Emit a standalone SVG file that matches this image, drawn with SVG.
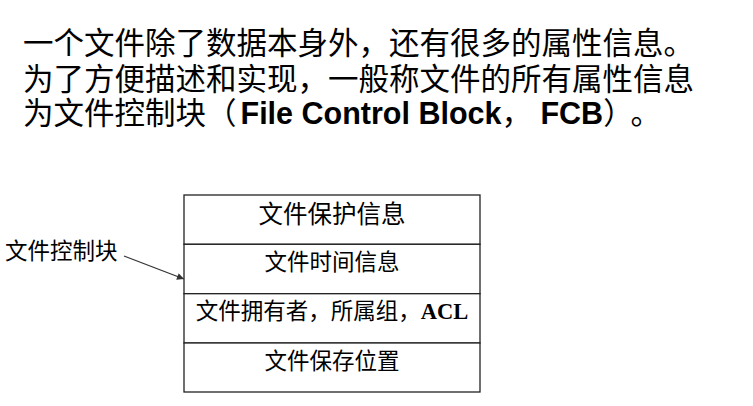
<svg xmlns="http://www.w3.org/2000/svg" width="753" height="406" viewBox="0 0 753 406">
<style>
.t{font-family:"Liberation Sans","Noto Sans CJK SC",sans-serif;font-size:30.5px;fill:#000}
.b{font-weight:bold}
.d{font-family:"Liberation Serif","Noto Sans CJK SC",serif;font-size:22.5px;fill:#000}
.cell{fill:#fff;stroke:#222;stroke-width:1.3}
.conn{stroke:#333;stroke-width:1.3;fill:none}
</style>
<defs>
<marker id="ah" viewBox="0 0 10 10" refX="10" refY="5" markerWidth="8" markerHeight="7" orient="auto" markerUnits="userSpaceOnUse">
<path d="M0,0 L10,5 L0,10 z" fill="#333"/>
</marker>
</defs>
<rect width="753" height="406" fill="#fff"/>
<g id="title">
<text class="t" x="23" y="54">一个文件除了数据本身外，还有很多的属性信息。</text>
<text class="t" x="23" y="90">为了方便描述和实现，一般称文件的所有属性信息</text>
<text class="t" x="23" y="124">为文件控制块（<tspan class="b" dx="4">File Control Block</tspan>， <tspan class="b">FCB</tspan>）<tspan dx="12">。</tspan></text>
</g>
<g id="label">
<text class="d" x="5" y="259">文件控制块</text>
</g>
<g id="row1">
<rect class="cell" x="184" y="195" width="296" height="49.3"/>
<text class="d" x="332" y="223" text-anchor="middle" style="font-size:24.5px">文件保护信息</text>
</g>
<g id="row2">
<rect class="cell" x="184" y="244.3" width="296" height="49.4"/>
<text class="d" x="332" y="270" text-anchor="middle">文件时间信息</text>
</g>
<g id="row3">
<rect class="cell" x="184" y="293.7" width="296" height="49.3"/>
<text class="d" x="332" y="319" text-anchor="middle">文件拥有者，所属组，<tspan class="b">ACL</tspan></text>
</g>
<g id="row4">
<rect class="cell" x="184" y="343" width="296" height="49"/>
<text class="d" x="332" y="369" text-anchor="middle">文件保存位置</text>
</g>
<g id="connectors">
<line class="conn" x1="124" y1="256" x2="184" y2="279" marker-end="url(#ah)"/>
</g>
</svg>
